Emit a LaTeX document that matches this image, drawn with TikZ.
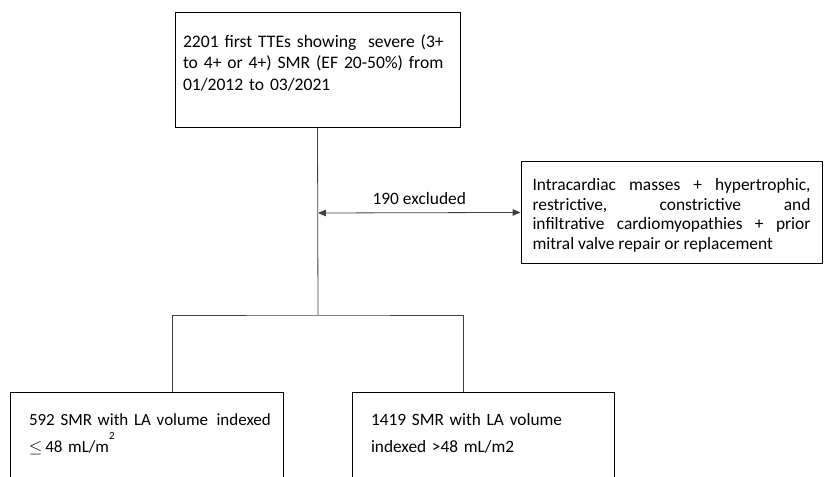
\documentclass[tikz,border=0pt]{standalone}
\usepackage{fontspec}
\setmainfont{Carlito}
\usetikzlibrary{shapes,arrows}
\hyphenpenalty=10000
\hbadness=10000
\hfuzz=20pt

\begin{document}
\begin{tikzpicture}[x=1pt, y=-1pt, >=triangle 45,
	box/.style={draw, line width=0.9pt, rectangle, inner ysep=0pt, font=\fontsize{17.6}{21.5}\selectfont},
	link/.style={draw=black!75, line width=0.8pt}]

\useasboundingbox (0,0) rectangle (831,477);
\clip (0,0) rectangle (831,477);

				% caja inicial
				\node [box, anchor=north, align=left, text width=269pt, inner xsep=8pt, text height=35pt, text depth=80pt] (start) at (317.5,12) {2201 first TTEs showing\ \ severe (3+\\to 4+ or 4+) SMR (EF 20-50\%) from\\01/2012 to 03/2021};
				% caja de excluidos
				\node [box, anchor=north, align=justify, text width=278pt, inner xsep=11.5pt, text height=29pt, text depth=73pt, font=\fontsize{17.4}{19.7}\selectfont] (excl) at (671.5,161) {Intracardiac masses + hypertrophic,\linebreak restrictive, constrictive and\linebreak infiltrative cardiomyopathies + prior\linebreak mitral valve repair or replacement};
				% cajas finales (cortadas abajo)
				\node [box, anchor=north, align=left, text width=254pt, inner xsep=9.5pt, text height=33pt, text depth=100pt, font=\fontsize{17}{27}\selectfont] (small) at (146.5,392) {\hspace*{9.5pt}\mbox{592 SMR with LA volume\ \,indexed}\\\hspace*{9.5pt}$\leq$\,48 mL/m\raisebox{1.6ex}{\fontsize{11}{11}\selectfont 2}};
				\node [box, anchor=north, align=left, text width=224pt, inner xsep=19pt, text height=33pt, text depth=100pt, font=\fontsize{17.3}{27}\selectfont] (large) at (483,392) {1419 SMR with LA volume\\indexed >48 mL/m2};

				\coordinate (cut) at (318,213);   % salida de la flecha
				\coordinate (split) at (318,315); % punto de bifurcacion
				\coordinate (lfoot) at (172,392);
				\coordinate (rfoot) at (463,392);

				\draw [link] (start.south) -- (split);
				\draw [link] (lfoot) |- (split) -| (rfoot);
				\draw [link, <->] (cut) -- node [above=4pt, font=\fontsize{17.4}{21.5}\selectfont, text=black] (nexcl) {190 excluded} (excl.west);

\end{tikzpicture}
\end{document}
